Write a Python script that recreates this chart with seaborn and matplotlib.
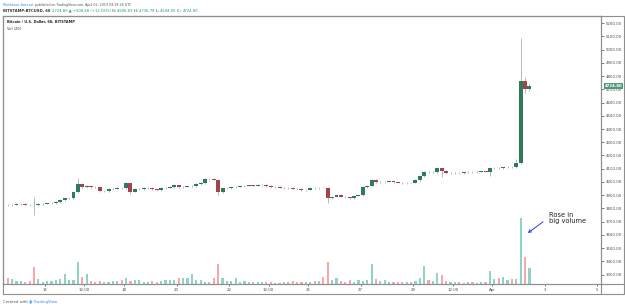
import numpy as np
import pandas as pd
import matplotlib
matplotlib.use('Agg')
import matplotlib.pyplot as plt
from matplotlib.lines import Line2D
from matplotlib.patches import Rectangle
import seaborn as sns

sns.set_theme(style='white')
plt.rcParams['font.family'] = ['DejaVu Sans']

# 4h candles, BITSTAMP:BTCUSD, 13 Mar 12:00 -> 2 Apr 08:00 (UTC)
times = pd.date_range('2019-03-13 12:00', periods=120, freq='4h')
first_open = 3830
closes = [3826, 3828, 3832, 3836, 3830, 3826, 3824, 3834, 3836, 3838,
          3840, 3849, 3862, 3876, 3880, 3925, 3985, 3965, 3968, 3962,
          3960, 3935, 3932, 3945, 3950, 3957, 3955, 3990, 3927, 3945,
          3947, 3955, 3958, 3945, 3940, 3955, 3957, 3960, 3977, 3962,
          3965, 3967, 3968, 3985, 3990, 4020, 4022, 4018, 3925, 3952,
          3955, 3962, 3965, 3966, 3972, 3975, 3973, 3977, 3978, 3970,
          3960, 3962, 3958, 3952, 3955, 3950, 3948, 3940, 3942, 3957,
          3955, 3958, 3957, 3882, 3889, 3902, 3890, 3886, 3877, 3897,
          3900, 3960, 3972, 4015, 3998, 4000, 4002, 4004, 3998, 3995,
          3993, 3996, 3995, 4015, 4045, 4075, 4073, 4076, 4103, 4083,
          4066, 4068, 4070, 4068, 4072, 4078, 4076, 4078, 4080, 4078,
          4108, 4108, 4106, 4110, 4115, 4113, 4145, 4760, 4700, 4724.8]
highs = [3836, 3834, 3838, 3842, 3841, 3835, 3887, 3840, 3842, 3844,
         3846, 3855, 3868, 3882, 3888, 3932, 4030, 3992, 3976, 3973,
         3968, 3964, 3941, 3951, 3956, 3963, 3963, 3998, 3994, 3951,
         3954, 3961, 3965, 3962, 3950, 3960, 3963, 3967, 3983, 3981,
         3971, 3973, 3975, 3991, 3997, 4027, 4029, 4028, 4022, 3958,
         3961, 3968, 3971, 3972, 3978, 3981, 3980, 3983, 3984, 3982,
         3974, 3968, 3966, 3962, 3961, 3959, 3955, 3952, 3948, 3963,
         3962, 3964, 3964, 3960, 3896, 3908, 3906, 3894, 3890, 3903,
         3906, 3966, 3978, 4022, 4019, 4006, 4008, 4010, 4009, 4002,
         4000, 4002, 4001, 4021, 4051, 4082, 4080, 4082, 4110, 4107,
         4087, 4074, 4076, 4075, 4078, 4084, 4083, 4084, 4086, 4085,
         4115, 4115, 4113, 4116, 4121, 4120, 4172, 5085, 4790, 4745]
lows = [3820, 3821, 3824, 3828, 3825, 3820, 3751, 3818, 3829, 3831,
        3833, 3835, 3843, 3856, 3868, 3874, 3918, 3958, 3958, 3955,
        3953, 3928, 3925, 3927, 3940, 3944, 3949, 3950, 3912, 3922,
        3939, 3941, 3949, 3939, 3934, 3935, 3950, 3951, 3955, 3956,
        3957, 3960, 3961, 3963, 3979, 3985, 4014, 4012, 3905, 3918,
        3946, 3950, 3957, 3959, 3961, 3967, 3968, 3968, 3971, 3964,
        3954, 3955, 3952, 3946, 3947, 3944, 3942, 3934, 3935, 3937,
        3949, 3950, 3951, 3842, 3875, 3884, 3884, 3880, 3870, 3872,
        3891, 3895, 3955, 3967, 3992, 3992, 3995, 3997, 3992, 3989,
        3987, 3988, 3989, 3990, 4010, 4040, 4067, 4068, 4071, 4040,
        4060, 4061, 4063, 4062, 4063, 4067, 4070, 4071, 4073, 4072,
        4045, 4101, 4100, 4101, 4105, 4107, 4108, 4138, 4670, 4690]
volume = [900, 750, 450, 450, 300, 450, 2550, 750, 300, 450,
          450, 600, 750, 1500, 600, 600, 3300, 1050, 1500, 450,
          300, 450, 300, 300, 450, 450, 600, 900, 450, 600,
          600, 300, 300, 450, 300, 450, 600, 600, 600, 900,
          900, 900, 1500, 600, 600, 300, 300, 900, 3000, 900,
          450, 450, 900, 300, 450, 300, 300, 300, 300, 300,
          300, 150, 150, 300, 300, 450, 300, 300, 300, 300,
          450, 450, 1050, 3300, 600, 900, 450, 300, 600, 300,
          600, 450, 600, 3000, 750, 450, 600, 300, 300, 300,
          300, 300, 300, 450, 900, 2700, 600, 450, 1650, 1350,
          450, 300, 300, 300, 150, 300, 300, 150, 300, 300,
          1950, 750, 900, 1050, 600, 750, 750, 9900, 4050, 2400]

tick_hours = [0, 36, 72, 120, 168, 204, 240, 288, 336, 372, 408, 456, 504]
tick_labels = ['15', '12:00', '18', '20', '22', '12:00', '25', '27', '29', '12:00', 'Apr', '3', '5']
price_ticks = list(range(3300, 5201, 100))
last_price = 4724.80

df = pd.DataFrame({'time': times, 'close': closes, 'high': highs, 'low': lows, 'vol': volume})
df['open'] = [first_open] + closes[:-1]
df['h'] = (df['time'] - pd.Timestamp('2019-03-15')) / pd.Timedelta(hours=1) + 2
df['dir'] = np.where(df['close'] >= df['open'], 'up', 'down')

up_body, dn_body = '#2f7a58', '#a3434d'
up_vol, dn_vol = '#8fd3c8', '#f6a9a9'
frame = '#8e8e8e'
txt = '#4a4a4a'

W, H = 625, 307
fig = plt.figure(figsize=(W / 100, H / 100), dpi=100)
fig.patch.set_facecolor('white')
ax = fig.add_axes([3 / W, 1 - 284 / H, 598 / W, 268 / H])
ax2 = ax.twinx()
ax.set_zorder(2)
ax.patch.set_visible(False)
ax2.set_zorder(1)

# volume
sns.barplot(data=df, x='h', y='vol', hue='dir', palette={'up': up_vol, 'down': dn_vol},
            native_scale=True, width=0.5, dodge=False, errorbar=None, legend=False,
            saturation=1, linewidth=0, ax=ax2)
ax2.set_ylim(0, max(volume) * 4.06)
ax2.set_yticks([])
ax2.set_ylabel('')
ax2.set_xlabel('')

# candles
ax.vlines(df['h'], df['low'], df['high'], color='#a0a0a0', lw=0.5, zorder=2)
body_col = np.where(df['dir'] == 'up', up_body, dn_body)
heights = (df['close'] - df['open']).replace(0, 0.5)
ax.bar(df['h'], heights, bottom=df['open'], width=3.6, color=body_col, linewidth=0, zorder=3)

ax.set_xlim(-38.3, 507.3)
ax.set_ylim(3230, 5253)
ax.yaxis.tick_right()
ax.set_yticks(price_ticks)
ax.set_yticklabels([f'{p:.2f}' for p in price_ticks])
ax.set_xticks(tick_hours)
ax.set_xticklabels(tick_labels)
ax.tick_params(axis='y', labelsize=2.8, colors=txt, length=2, width=0.5, pad=1.2, right=True)
ax.tick_params(axis='x', labelsize=2.8, colors=txt, length=1.5, width=0.5, pad=1.2, bottom=True)
for a in (ax, ax2):
    for s in a.spines.values():
        s.set_color(frame)
        s.set_linewidth(0.8)
ax.grid(False)
ax2.grid(False)

# last price tag
ax.annotate(f'{last_price:.2f}', xy=(1, last_price), xycoords=('axes fraction', 'data'),
            xytext=(2.5, 0), textcoords='offset points', ha='left', va='center',
            fontsize=2.8, color='white', fontweight='bold',
            bbox=dict(boxstyle='square,pad=0.25', fc='#4e9a78', ec='none'))

# outer frame
fig.add_artist(Rectangle((3 / W, 1 - 294 / H), 621 / W, 278 / H, transform=fig.transFigure,
                         fill=False, ec=frame, lw=0.8))
fig.add_artist(Line2D([601 / W, 601 / W], [1 - 294 / H, 1 - 284 / H], color=frame, lw=0.8))
fig.add_artist(Line2D([601 / W, 624 / W], [1 - 284 / H, 1 - 284 / H], color=frame, lw=0.8))

# header
t1 = fig.text(3 / W, 1 - 5 / H, 'Elliottwave-forecast', fontsize=2.3, color='#2a8cf0', va='center')
ax.annotate(' published on TradingView.com, April 02, 2019 09:18:26 UTC', xy=(1, 0.5),
            xycoords=t1, va='center', ha='left', fontsize=2.3, color='#555555')
green = '#1f9d6b'
parts = [('BITSTAMP:BTCUSD, 60 ', '#333333', 'bold'), ('4724.80 \u25b2 +508.48 (+12.06%) ', green, 'normal'),
         ('O: ', '#333333', 'normal'), ('4696.69 ', green, 'normal'),
         ('H: ', '#333333', 'normal'), ('4736.78 ', green, 'normal'),
         ('L: ', '#333333', 'normal'), ('4694.05 ', green, 'normal'),
         ('C: ', '#333333', 'normal'), ('4724.80', green, 'normal')]
prev = fig.text(3 / W, 1 - 11 / H, parts[0][0], fontsize=2.7, color=parts[0][1],
                fontweight=parts[0][2], va='center')
for s, c, w in parts[1:]:
    prev = ax.annotate(s, xy=(1, 0.5), xycoords=prev, va='center', ha='left',
                       fontsize=2.7, color=c, fontweight=w)

fig.text(7 / W, 1 - 22 / H, 'Bitcoin / U.S. Dollar, 60, BITSTAMP', fontsize=2.55, color='#222222',
         fontweight='bold', va='center')
fig.text(7 / W, 1 - 29 / H, 'Vol (20)', fontsize=2.6, color='#333333', va='center')

# annotation
ax.annotate('Rose in\nbig volume', xy=(440.5, 3615), xytext=(459.5, 3775), fontsize=4.8,
            color='#222222', ha='left', va='top', linespacing=1.0,
            arrowprops=dict(arrowstyle='->', color='#2b3fe0', lw=0.7, relpos=(0, 0.5),
                            shrinkA=2, shrinkB=0))

# footer
t2 = fig.text(3 / W, 1 - 302 / H, 'Created with ', fontsize=2.8, color='#555555', va='center')
ax.annotate('\u25c9 TradingView', xy=(1, 0.5), xycoords=t2, va='center', ha='left',
            fontsize=2.8, color='#2a8cf0')

fig.savefig('out.png', dpi=100, facecolor='white')
